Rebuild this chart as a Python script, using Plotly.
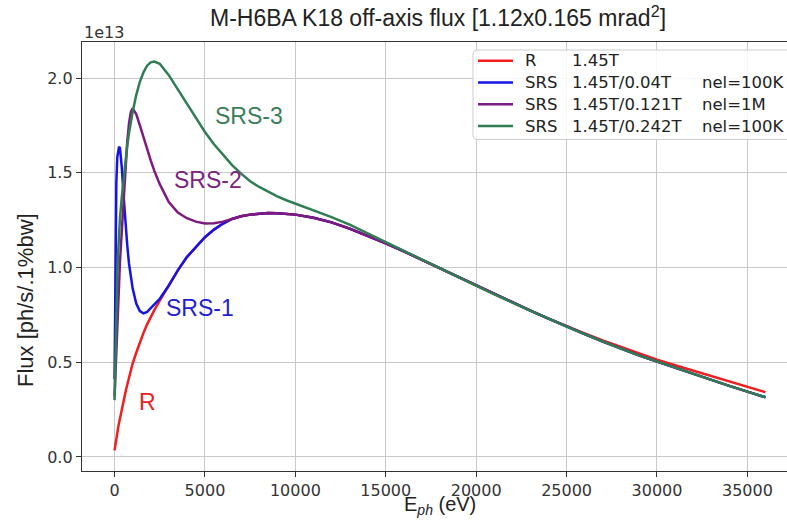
import plotly.graph_objects as go

# Photon energy grid (eV)
energy_ev = [
    0, 50, 100, 150, 200, 250, 300, 400, 500, 600, 700, 800, 900, 1000,
    1200, 1400, 1600, 1800, 2000, 2200, 2500,
    3000, 3500, 4000, 4500, 5000, 5500, 6000, 6500, 7000, 7500, 8000,
    8500, 9000, 9500, 10000,
    11000, 12000, 13000, 14000, 15000, 16000, 17000, 18000, 19000, 20000,
    21000, 22000, 23000, 24000, 25000, 26000, 27000, 28000, 29000, 30000,
    31000, 32000, 33000, 34000, 35000, 36000,
]

# Flux in units of 1e13 ph/s/0.1%bw
flux_r = [
    0.035, 0.07, 0.10, 0.13, 0.155, 0.18, 0.205, 0.25, 0.295, 0.34, 0.38, 0.42, 0.458, 0.493,
    0.55, 0.605, 0.655, 0.70, 0.74, 0.775, 0.825,
    0.905, 0.985, 1.055, 1.11, 1.16, 1.20, 1.232, 1.256, 1.27, 1.279, 1.284,
    1.287, 1.286, 1.284, 1.279,
    1.262, 1.238, 1.205, 1.168, 1.128, 1.085, 1.04, 0.995, 0.948, 0.903,
    0.858, 0.815, 0.772, 0.73, 0.69, 0.652, 0.615, 0.58, 0.546, 0.514,
    0.484, 0.455, 0.426, 0.397, 0.369, 0.342,
]

flux_srs1 = [
    0.41, 1.00, 1.45, 1.58, 1.625, 1.638, 1.63, 1.53, 1.38, 1.24, 1.12, 1.02, 0.95, 0.89,
    0.81, 0.77, 0.758, 0.765, 0.785, 0.805, 0.835,
    0.905, 0.985, 1.055, 1.11, 1.16, 1.20, 1.232, 1.256, 1.27, 1.279, 1.284,
    1.287, 1.286, 1.284, 1.279,
    1.262, 1.238, 1.205, 1.168, 1.128, 1.085, 1.04, 0.995, 0.948, 0.903,
    0.858, 0.815, 0.772, 0.73, 0.688, 0.648, 0.609, 0.572, 0.536, 0.503,
    0.47, 0.438, 0.406, 0.375, 0.345, 0.315,
]

flux_srs2 = [
    0.32, 0.45, 0.58, 0.70, 0.82, 0.93, 1.03, 1.19, 1.36, 1.53, 1.66, 1.76, 1.82, 1.84,
    1.81, 1.75, 1.685, 1.62, 1.565, 1.51, 1.44,
    1.345, 1.29, 1.26, 1.242, 1.232, 1.233, 1.242, 1.256, 1.27, 1.279, 1.284,
    1.287, 1.286, 1.284, 1.279,
    1.262, 1.238, 1.205, 1.168, 1.128, 1.085, 1.04, 0.995, 0.948, 0.903,
    0.858, 0.815, 0.772, 0.73, 0.688, 0.648, 0.609, 0.572, 0.536, 0.503,
    0.47, 0.438, 0.406, 0.375, 0.345, 0.315,
]

flux_srs3 = [
    0.30, 0.55, 0.78, 0.95, 1.08, 1.18, 1.26, 1.37, 1.47, 1.56, 1.64, 1.71, 1.77, 1.82,
    1.91, 1.98, 2.03, 2.065, 2.083, 2.087, 2.075,
    2.015, 1.94, 1.865, 1.79, 1.715, 1.65, 1.595, 1.54, 1.495, 1.455, 1.425,
    1.398, 1.375, 1.355, 1.338,
    1.303, 1.266, 1.226, 1.18, 1.132, 1.086, 1.04, 0.995, 0.948, 0.903,
    0.858, 0.815, 0.772, 0.73, 0.688, 0.648, 0.609, 0.572, 0.536, 0.503,
    0.47, 0.438, 0.406, 0.375, 0.345, 0.315,
]

# Legend columns: source type, field, electron count
legend_kind = ["R", "SRS", "SRS", "SRS"]
legend_field = ["1.45T", "1.45T/0.04T", "1.45T/0.121T", "1.45T/0.242T"]
legend_nel = ["", "nel=100K", "nel=1M", "nel=100K"]

series_flux = [flux_r, flux_srs1, flux_srs2, flux_srs3]
series_colors = ["#f01e1e", "#1414e6", "#7d1a82", "#2f7d52"]

# In-plot curve labels: text, energy, flux
curve_labels = ["SRS-3", "SRS-2", "SRS-1", "R"]
label_energy = [7415, 5150, 4707, 1810]
label_flux = [1.80, 1.463, 0.787, 0.29]
label_colors = ["#3a7d58", "#7a2382", "#1e1ed2", "#ee2020"]

y_ticks = [0.0, 0.5, 1.0, 1.5, 2.0]
x_ticks = [0, 5000, 10000, 15000, 20000, 25000, 30000, 35000]

ANNOT_FONT = "Liberation Sans, Arial"
TICK_FONT = dict(family="DejaVu Sans", size=16, color="#333333")
LEGEND_FONT = dict(family="DejaVu Sans", size=16.5, color="#222222")

# Plot-area geometry (pixels) used to place the legend box in paper units
L, R_EDGE, T, B = 82, 787, 42, 471
W, H = R_EDGE - L, B - T


def px_x(px):
    return (px - L) / W


def px_y(py):
    return (B - py) / H


fig = go.Figure()
for kind, field, flux, color in zip(legend_kind, legend_field, series_flux, series_colors):
    fig.add_trace(go.Scatter(
        x=energy_ev, y=flux, mode="lines", name=f"{kind} {field}",
        line=dict(color=color, width=2.5), showlegend=False,
    ))

for text, ex, fy, color in zip(curve_labels, label_energy, label_flux, label_colors):
    fig.add_annotation(x=ex, y=fy, xref="x", yref="y", text=text, showarrow=False,
                       font=dict(family=ANNOT_FONT, size=23, color=color))

# Legend box (rounded on the left, runs past the right edge)
bx0, bx1, by0, by1 = px_x(473), px_x(805), px_y(50), px_y(139.5)
rx, ry = 4 / W, 4 / H
fig.add_shape(
    type="path", xref="paper", yref="paper", layer="above",
    path=(f"M {bx0 + rx} {by0} L {bx1} {by0} L {bx1} {by1} L {bx0 + rx} {by1} "
          f"Q {bx0} {by1} {bx0} {by1 + ry} L {bx0} {by0 - ry} "
          f"Q {bx0} {by0} {bx0 + rx} {by0} Z"),
    fillcolor="rgba(255,255,255,0.85)", line=dict(color="#cccccc", width=1),
)
row_y = [60.7, 82.5, 104.3, 126]
for i, (kind, field, nel, color) in enumerate(zip(legend_kind, legend_field, legend_nel, series_colors)):
    yy = px_y(row_y[i])
    fig.add_shape(type="line", xref="paper", yref="paper", layer="above",
                  x0=px_x(478), x1=px_x(513), y0=yy, y1=yy,
                  line=dict(color=color, width=2.5))
    for col_px, txt in zip([523, 570, 700], [kind, field, nel]):
        if txt:
            fig.add_annotation(x=px_x(col_px), y=yy, xref="paper", yref="paper",
                               text=txt, showarrow=False, xanchor="left", yanchor="middle",
                               font=LEGEND_FONT)

# Offset multiplier above the y axis
fig.add_annotation(x=0, y=1.0, xref="paper", yref="paper", text="1e13",
                   showarrow=False, xanchor="left", yanchor="bottom", yshift=-2,
                   font=TICK_FONT)

# Axis titles
fig.add_annotation(x=px_x(440), y=px_y(520), xref="paper", yref="paper",
                   text="E<sub><i>ph</i></sub> (eV)", showarrow=False,
                   xanchor="center", yanchor="bottom",
                   font=dict(family=ANNOT_FONT, size=20, color="#222222"))
fig.add_annotation(x=0, y=px_y(300), xref="paper", yref="paper",
                   text="Flux [ph/s/.1%bw]", showarrow=False, textangle=-90,
                   xanchor="center", yanchor="middle", xshift=-57,
                   font=dict(family=ANNOT_FONT, size=22, color="#222222"))

fig.update_layout(
    width=787, height=521,
    margin=dict(l=L, r=0, t=T, b=521 - B),
    paper_bgcolor="white", plot_bgcolor="white",
    title=dict(text="M-H6BA K18 off-axis flux [1.12x0.165 mrad<sup>2</sup>]",
               x=0.505, xref="paper", xanchor="center", y=0.965, yanchor="middle",
               font=dict(family=ANNOT_FONT, size=23, color="#222222")),
    showlegend=False,
)

fig.update_xaxes(
    range=[-1800, 37190], tickvals=x_ticks, tickformat="d",
    showgrid=True, gridcolor="#c8c8c8", gridwidth=1,
    showline=True, linecolor="#333333", linewidth=1.3, mirror=True,
    ticks="outside", ticklen=5, tickcolor="#333333", tickfont=TICK_FONT,
    zeroline=False,
)
fig.update_yaxes(
    range=[-0.074, 2.19], tickvals=y_ticks, tickformat=".1f",
    showgrid=True, gridcolor="#c8c8c8", gridwidth=1,
    showline=True, linecolor="#333333", linewidth=1.3, mirror=False,
    ticks="outside", ticklen=5, tickcolor="#333333", tickfont=TICK_FONT,
    zeroline=False,
)

fig.write_html("out.html")
